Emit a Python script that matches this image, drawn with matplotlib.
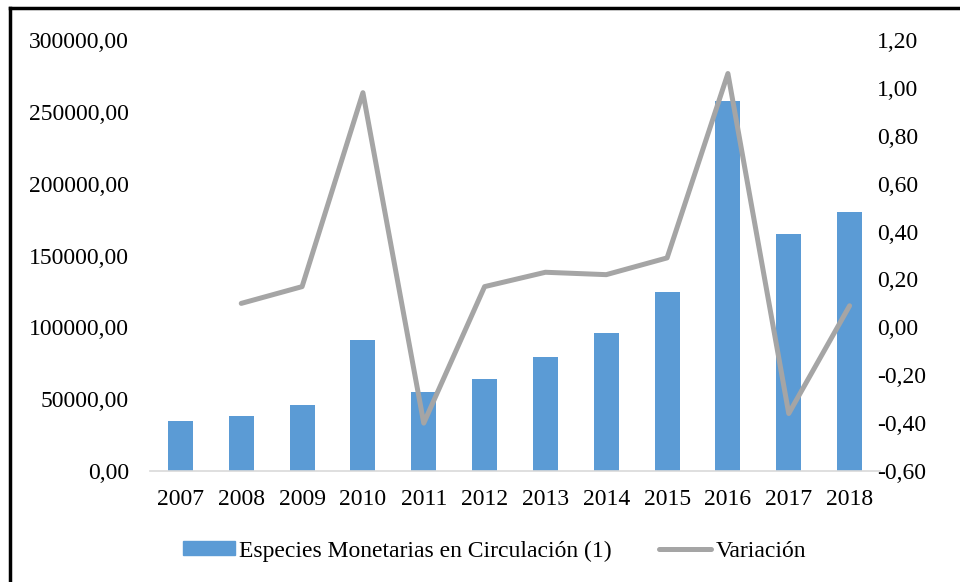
import matplotlib.pyplot as plt
import numpy as np
from matplotlib.lines import Line2D

plt.rcParams['font.family'] = ['Liberation Serif', 'DejaVu Serif']

# Data
years = ["2007", "2008", "2009", "2010", "2011", "2012",
         "2013", "2014", "2015", "2016", "2017", "2018"]
especies = [35000, 38600, 45600, 91200, 54700, 64000,
            79500, 96300, 124700, 257200, 165100, 180200]
variacion = [np.nan, 0.10, 0.17, 0.98, -0.40, 0.17,
             0.23, 0.22, 0.29, 1.06, -0.36, 0.09]

blue = '#5B9BD5'
grey = '#A5A5A5'
fs = 17

fig = plt.figure(figsize=(9.6, 5.82), dpi=100)
ax1 = fig.add_axes([150/960, 1 - 471/582, 730/960, 431/582])
x = np.arange(len(years))

ax1.bar(x, especies, width=0.41, color=blue, zorder=2)
ax1.set_xlim(-0.5, len(years) - 0.5)
ax1.set_ylim(0, 300000)
lticks = np.arange(0, 300001, 50000)
ax1.set_yticks(lticks)
ax1.set_yticklabels([f"{v:.2f}".replace('.', ',') for v in lticks])
ax1.set_xticks(x)
ax1.set_xticklabels(years)

for s in ['top', 'right', 'left']:
    ax1.spines[s].set_visible(False)
ax1.spines['bottom'].set_color('#D9D9D9')
ax1.spines['bottom'].set_linewidth(1.2)
ax1.tick_params(axis='both', length=0, labelsize=fs)
ax1.tick_params(axis='y', pad=15)
ax1.tick_params(axis='x', pad=13)

# Secondary axis for the variation
ax2 = ax1.twinx()
ax2.plot(x, variacion, color=grey, linewidth=3.6, solid_capstyle='round',
         solid_joinstyle='round', zorder=3)
ax2.set_ylim(-0.6, 1.2)
rticks = np.linspace(-0.6, 1.2, 10)
ax2.set_yticks(rticks)
ax2.set_yticklabels([f"{v:.2f}".replace('.', ',') for v in rticks])
for s in ['top', 'right', 'left', 'bottom']:
    ax2.spines[s].set_visible(False)
ax2.tick_params(axis='y', length=0, labelsize=fs, pad=-2)

handles = [plt.Rectangle((0, 0), 1, 1, color=blue),
           Line2D([0], [0], color=grey, linewidth=3.6, solid_capstyle='round')]
fig.legend(handles, ["Especies Monetarias en Circulación (1)", "Variación"],
           loc='center', bbox_to_anchor=(0.515, 1 - 551/582), ncol=2, frameon=False,
           fontsize=fs, handlelength=2.2, handleheight=0.5, handletextpad=0.2,
           columnspacing=2.0)

# Outer frame (left and top edges visible in reference)
fig.add_artist(Line2D([10/960, 10/960], [0, 1 - 8/582], color='black',
                      linewidth=2.5, transform=fig.transFigure))
fig.add_artist(Line2D([10/960, 1], [1 - 8/582, 1 - 8/582], color='black',
                      linewidth=2.5, transform=fig.transFigure))

fig.savefig('out.png', dpi=100)
